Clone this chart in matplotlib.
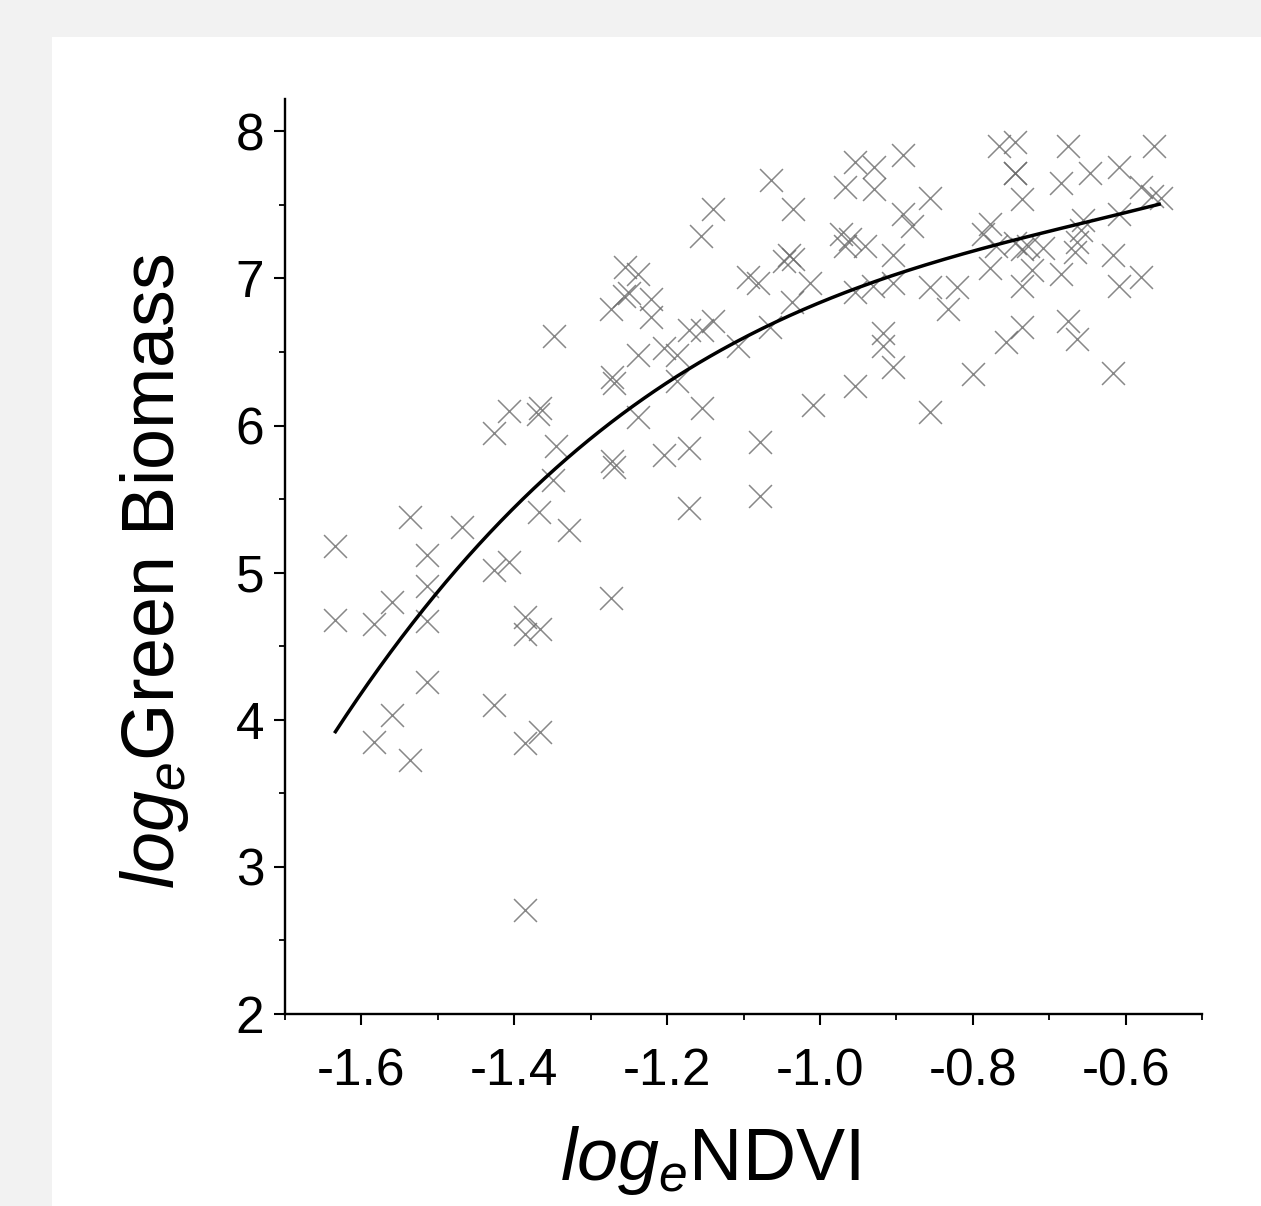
import matplotlib
matplotlib.use('Agg')
import matplotlib.pyplot as plt
import numpy as np
from matplotlib.ticker import MultipleLocator, FormatStrFormatter
from matplotlib.patches import Rectangle

# ---- data ----
ndvi = [
    -1.140, -1.156, -1.255, -1.238, -1.256, -1.250, -1.221, -1.273, -1.221, -1.348,
    -1.171, -1.154, -1.140, -1.238, -1.204, -1.187, -1.272, -1.270, -1.187, -1.154,
    -1.238, -1.407, -1.369, -1.366, -1.427, -1.346, -1.272, -1.270, -1.204, -1.171,
    -1.634, -1.634, -1.584, -1.560, -1.537, -1.514, -1.514, -1.514, -1.469, -1.514,
    -1.560, -1.584, -1.537, -1.427, -1.407, -1.427, -1.386, -1.366, -1.386, -1.366,
    -1.386, -1.386, -1.273, -1.367, -1.328, -1.349, -1.171,
    -1.064, -1.035, -0.954, -0.929, -0.891, -0.967, -0.929, -0.856, -0.891, -0.880,
    -0.766, -0.745, -0.745, -0.745, -0.735, -0.675, -0.684, -0.646, -0.608, -0.563,
    -0.580, -0.565, -0.553, -0.608, -0.656, -0.658, -0.664, -0.666, -0.617, -0.580,
    -0.608, -0.684, -0.675, -0.664, -0.617, -0.708, -0.745, -0.735, -0.728, -0.723,
    -0.735, -0.735, -0.756, -0.778, -0.778, -0.787, -0.770, -0.856, -0.821, -0.833,
    -0.800, -0.856, -0.904, -0.931, -0.904, -0.954, -0.941, -0.973, -0.967, -0.960,
    -0.918, -0.918, -0.904, -0.954, -1.009, -1.078, -1.078, -1.047, -1.040, -1.035,
    -1.094, -1.081, -1.013, -1.037, -1.065, -1.107,
]
biomass = [
    7.47, 7.29, 7.08, 7.03, 6.88, 6.90, 6.86, 6.79, 6.74, 6.61,
    6.65, 6.65, 6.71, 6.48, 6.53, 6.48, 6.33, 6.29, 6.30, 6.12,
    6.06, 6.10, 6.08, 6.12, 5.95, 5.86, 5.76, 5.72, 5.80, 5.85,
    5.18, 4.68, 4.65, 4.80, 5.38, 5.12, 4.91, 4.67, 5.31, 4.26,
    4.03, 3.85, 3.73, 5.02, 5.07, 4.10, 4.70, 4.62, 4.58, 3.92,
    3.84, 2.71, 4.83, 5.41, 5.29, 5.63, 5.44,
    7.67, 7.47, 7.79, 7.76, 7.84, 7.62, 7.61, 7.55, 7.44, 7.36,
    7.90, 7.93, 7.72, 7.72, 7.54, 7.90, 7.65, 7.72, 7.76, 7.90,
    7.62, 7.56, 7.55, 7.44, 7.40, 7.33, 7.25, 7.18, 7.16, 7.01,
    6.95, 7.03, 6.71, 6.59, 6.36, 7.21, 7.24, 7.20, 7.22, 7.06,
    6.95, 6.67, 6.57, 7.07, 7.37, 7.30, 7.22, 6.94, 6.94, 6.79,
    6.35, 6.09, 7.16, 6.95, 6.97, 6.91, 7.22, 7.30, 7.22, 7.27,
    6.63, 6.54, 6.40, 6.27, 6.14, 5.89, 5.52, 7.12, 7.16, 7.13,
    7.01, 6.97, 6.97, 6.84, 6.67, 6.54,
]
curve_ndvi = [-1.634, -1.610, -1.560, -1.514, -1.469, -1.427, -1.383, -1.348,
              -1.244, -1.187, -1.118, -1.052, -0.957, -0.856, -0.756, -0.660, -0.556]
curve_biomass = [3.89, 4.09, 4.49, 4.80, 5.09, 5.33, 5.52, 5.71,
                 6.09, 6.31, 6.54, 6.72, 6.93, 7.09, 7.28, 7.39, 7.48]
x_ticks = [-1.6, -1.4, -1.2, -1.0, -0.8, -0.6]
y_ticks = [2, 3, 4, 5, 6, 7, 8]

W, H = 1261, 1206
plt.rcParams['font.family'] = ['Liberation Sans', 'DejaVu Sans']
plt.rcParams['mathtext.fontset'] = 'custom'
plt.rcParams['mathtext.rm'] = 'Liberation Sans'
plt.rcParams['mathtext.it'] = 'Liberation Sans:italic'
plt.rcParams['axes.unicode_minus'] = False

fig = plt.figure(figsize=(W / 100, H / 100), dpi=100, facecolor='#f2f2f2')
fig.patches.append(Rectangle((52 / W, 0), 1 - 52 / W, 1 - 37 / H,
                             transform=fig.transFigure, facecolor='white',
                             edgecolor='none', zorder=-5))

ax = fig.add_axes([285 / W, 1 - 1014 / H, (1202 - 285) / W, (1014 - 99) / H])
ax.set_zorder(2)
ax.set_facecolor('none')

ax.scatter(ndvi, biomass, marker='x', s=16.5 ** 2, c='#6a6a6a',
           linewidths=1.1, alpha=0.8, zorder=2)

coef = np.polyfit(curve_ndvi, curve_biomass, 3)
cx = np.linspace(min(curve_ndvi), max(curve_ndvi), 300)
ax.plot(cx, np.polyval(coef, cx), color='black', lw=2.5, zorder=3)

ax.set_xlim(-1.7, -0.5)
ax.set_ylim(2, 8.22)
ax.set_xticks(x_ticks)
ax.set_yticks(y_ticks)
ax.xaxis.set_minor_locator(MultipleLocator(0.1))
ax.yaxis.set_minor_locator(MultipleLocator(0.5))
ax.xaxis.set_major_formatter(FormatStrFormatter('%.1f'))

for s in ['top', 'right']:
    ax.spines[s].set_visible(False)
for s in ['left', 'bottom']:
    ax.spines[s].set_linewidth(1.7)

ax.tick_params(which='major', length=8, width=1.5, labelsize=37, direction='out')
ax.tick_params(which='minor', length=4.5, width=1.3, direction='out')
ax.tick_params(axis='x', which='major', pad=16)
ax.tick_params(axis='y', which='major', pad=7)

fig.text(710 / W, 1 - 1180 / H, r'$\mathit{log}_{\mathit{e}}$NDVI', fontsize=53,
         ha='center', va='baseline', zorder=3)
fig.text(155 / W, 1 - 571 / H, r'$\mathit{log}_{\mathit{e}}$Green Biomass', fontsize=53,
         rotation=90, ha='center', va='center', zorder=3)

fig.savefig('out.png', dpi=100, facecolor=fig.get_facecolor())
